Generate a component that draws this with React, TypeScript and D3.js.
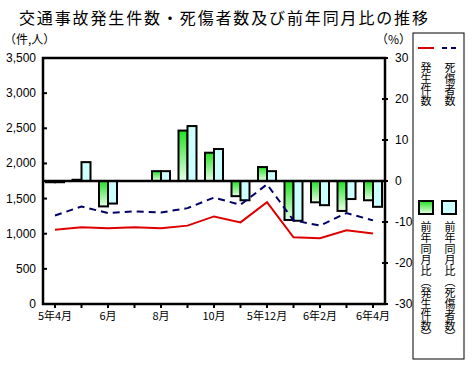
import React, { useRef, useEffect } from 'react';
import * as d3 from 'd3';

const months = ['5年4月', '5月', '6月', '7月', '8月', '9月', '10月', '11月', '5年12月', '6年1月', '6年2月', '6年3月', '6年4月'];
const tickLabels = ['5年4月', '6月', '8月', '10月', '5年12月', '6年2月', '6年4月'];
const accidents = [1058, 1091, 1077, 1091, 1077, 1115, 1246, 1161, 1449, 950, 936, 1049, 1002];
const casualties = [1260, 1387, 1294, 1317, 1302, 1364, 1514, 1411, 1703, 1190, 1115, 1294, 1190];
const accidentYoY = [-0.3, 0.3, -6.2, 0, 2.4, 12.3, 6.9, -3.7, 3.4, -9.5, -5.2, -7.3, -4.7];
const casualtyYoY = [-0.3, 4.6, -5.5, 0, 2.4, 13.4, 7.8, -4.7, 2.4, -9.7, -5.9, -4.4, -6.3];
const leftTicks = [0, 500, 1000, 1500, 2000, 2500, 3000, 3500];
const rightTicks = [-30, -20, -10, 0, 10, 20, 30];

const FONT = "'Liberation Sans', 'Noto Sans CJK JP', sans-serif";
const JP = "'Noto Sans CJK JP', sans-serif";

const App = () => {
  const ref = useRef<SVGSVGElement>(null);

  useEffect(() => {
    const svg = d3.select(ref.current);
    svg.selectAll('*').remove();

    const L = 43, R = 385, T = 58, B = 304;
    const x = d3.scalePoint<string>().domain(months).range([55, 373]);
    const inner = d3.scaleBand<string>().domain(['acc', 'cas']).range([-9, 9]);
    const yL = d3.scaleLinear().domain([0, 3500]).range([B, T]);
    const yR = d3.scaleLinear().domain([-30, 30]).range([B, T]);

    const defs = svg.append('defs');
    const grad = defs.append('linearGradient').attr('id', 'gr')
      .attr('x1', 0).attr('y1', 0).attr('x2', 0).attr('y2', 1);
    grad.append('stop').attr('offset', 0).attr('stop-color', '#22e022');
    grad.append('stop').attr('offset', 1).attr('stop-color', '#eaffea');

    // title
    svg.append('text').attr('x', 19).attr('y', 24)
      .attr('font-family', JP).attr('font-size', 16)
      .attr('textLength', 409).attr('lengthAdjust', 'spacing')
      .text('交通事故発生件数・死傷者数及び前年同月比の推移');

    svg.append('text').attr('x', 4).attr('y', 44)
      .attr('font-family', JP).attr('font-size', 12).text('（件,人）');
    svg.append('text').attr('x', 376).attr('y', 44)
      .attr('font-family', JP).attr('font-size', 12).text('（%）');

    // bars
    const barData = months.map((m, i) => [
      { m, k: 'acc', v: accidentYoY[i] },
      { m, k: 'cas', v: casualtyYoY[i] },
    ]).flat();
    svg.append('g').selectAll('rect').data(barData).enter().append('rect')
      .attr('x', d => (x(d.m) as number) + (inner(d.k) as number))
      .attr('width', inner.bandwidth())
      .attr('y', d => yR(Math.max(0, d.v)))
      .attr('height', d => Math.abs(yR(d.v) - yR(0)))
      .attr('fill', d => d.k === 'acc' ? 'url(#gr)' : '#ccffff')
      .attr('stroke', '#000').attr('stroke-width', 2);

    // zero line
    svg.append('line').attr('x1', L).attr('x2', R).attr('y1', yR(0)).attr('y2', yR(0))
      .attr('stroke', '#000').attr('stroke-width', 2.5);

    // lines
    const lineGen = (vals: number[]) => d3.line<number>()
      .x((_, i) => x(months[i]) as number).y(d => yL(d))(vals);
    svg.append('path').attr('d', lineGen(casualties)).attr('fill', 'none')
      .attr('stroke', '#000066').attr('stroke-width', 2).attr('stroke-dasharray', '7,5');
    svg.append('path').attr('d', lineGen(accidents)).attr('fill', 'none')
      .attr('stroke', '#dd0000').attr('stroke-width', 2);

    // frame
    svg.append('rect').attr('x', L).attr('y', T).attr('width', R - L).attr('height', B - T)
      .attr('fill', 'none').attr('stroke', '#000').attr('stroke-width', 2.5);

    // left axis
    const gl = svg.append('g');
    leftTicks.forEach(t => {
      gl.append('line').attr('x1', L).attr('x2', L + 4).attr('y1', yL(t)).attr('y2', yL(t))
        .attr('stroke', '#000').attr('stroke-width', 2);
      gl.append('text').attr('x', 36).attr('y', yL(t) + 4).attr('text-anchor', 'end')
        .attr('font-family', FONT).attr('font-size', 12).text(d3.format(',')(t));
    });
    // right axis
    const gr = svg.append('g');
    rightTicks.forEach(t => {
      gr.append('line').attr('x1', R - 3).attr('x2', R + 3).attr('y1', yR(t)).attr('y2', yR(t))
        .attr('stroke', '#000').attr('stroke-width', 2);
      gr.append('text').attr('x', 395).attr('y', yR(t) + 4)
        .attr('font-family', FONT).attr('font-size', 12).text(t);
    });
    // x axis
    const gx = svg.append('g');
    months.forEach(m => {
      gx.append('line').attr('x1', x(m) as number).attr('x2', x(m) as number)
        .attr('y1', B).attr('y2', B + 4).attr('stroke', '#000').attr('stroke-width', 2);
    });
    tickLabels.forEach(m => {
      gx.append('text').attr('x', x(m) as number).attr('y', B + 16).attr('text-anchor', 'middle')
        .attr('font-family', JP).attr('font-size', 11).text(m);
    });

    // legend
    const lg = svg.append('g');
    lg.append('rect').attr('x', 413).attr('y', 33).attr('width', 51).attr('height', 326)
      .attr('fill', '#fff').attr('stroke', '#000').attr('stroke-width', 1);
    lg.append('line').attr('x1', 418).attr('x2', 434).attr('y1', 48).attr('y2', 48)
      .attr('stroke', '#dd0000').attr('stroke-width', 2);
    lg.append('line').attr('x1', 442).attr('x2', 459).attr('y1', 48).attr('y2', 48)
      .attr('stroke', '#000066').attr('stroke-width', 2).attr('stroke-dasharray', '5,4');
    lg.append('rect').attr('x', 419).attr('y', 201).attr('width', 14).attr('height', 13)
      .attr('fill', 'url(#gr)').attr('stroke', '#000').attr('stroke-width', 2);
    lg.append('rect').attr('x', 442).attr('y', 201).attr('width', 14).attr('height', 13)
      .attr('fill', '#ccffff').attr('stroke', '#000').attr('stroke-width', 2);
    const vtext = (cx: number, y: number, s: string) =>
      lg.append('text').attr('x', cx).attr('y', y)
        .attr('font-family', JP).attr('font-size', 11)
        .style('writing-mode', 'vertical-rl').text(s);
    vtext(426, 62, '発生件数');
    vtext(450, 62, '死傷者数');
    vtext(426, 221, '前年同月比（発生件数）');
    vtext(450, 221, '前年同月比（死傷者数）');
  }, []);

  return (
    <>
      <style>{`body { margin: 0; } svg { display: block; }`}</style>
      <svg ref={ref} width={473} height={365} style={{ background: '#fff' }} />
    </>
  );
};

export default App;
